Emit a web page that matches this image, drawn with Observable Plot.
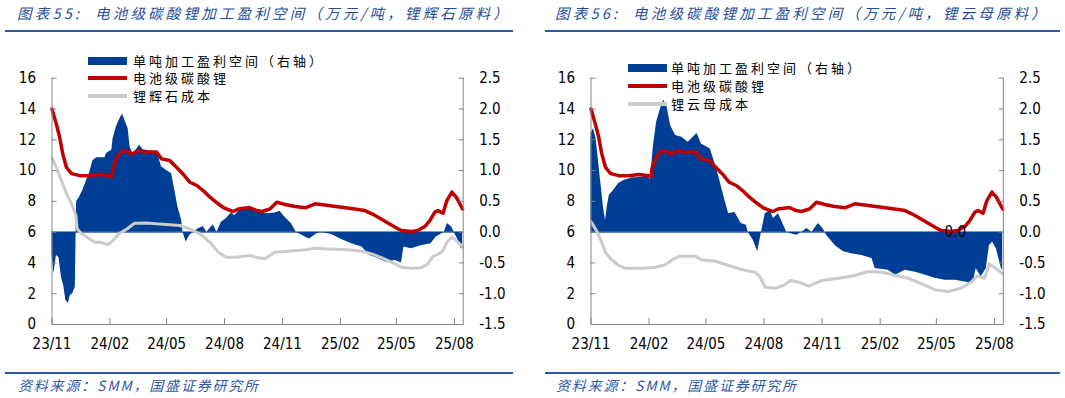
<!DOCTYPE html>
<html><head><meta charset="utf-8">
<script src="https://cdn.jsdelivr.net/npm/d3@7"></script>
<script src="https://cdn.jsdelivr.net/npm/@observablehq/plot@0.6"></script>
<style>
body{margin:0;width:1065px;height:398px;background:#fff;position:relative;overflow:hidden;font-family:"Noto Sans CJK SC",sans-serif}
.title{position:absolute;top:3px;line-height:20px;font-style:italic;color:#1f4e9b;font-size:14.5px;letter-spacing:3.2px;white-space:nowrap}
.rule{position:absolute;height:2px;background:#2a5aa8}
.src{position:absolute;top:375px;line-height:20px;font-style:italic;color:#2d5aa6;font-size:14px;letter-spacing:1.8px;white-space:nowrap}
.chart{position:absolute;top:40px}
.lg{position:absolute;font-size:13px;letter-spacing:3px;line-height:14px;height:14px;white-space:nowrap;color:#000}
.sw{position:absolute}
</style>
</head><body>
<script>
// ---------- data ----------
const titles = ["图表55:\u00a0\u00a0电池级碳酸锂加工盈利空间（万元/吨，锂辉石原料）",
                "图表56:\u00a0\u00a0电池级碳酸锂加工盈利空间（万元/吨，锂云母原料）"];
const sourceText = "资料来源：SMM，国盛证券研究所";
const legendLeft  = ["单吨加工盈利空间（右轴）","电池级碳酸锂","锂辉石成本"];
const legendRight = ["单吨加工盈利空间（右轴）","电池级碳酸锂","锂云母成本"];
const leftTicks = [0,2,4,6,8,10,12,14,16];
const rightTicks = [-1.5,-1.0,-0.5,0.0,0.5,1.0,1.5,2.0,2.5];
const xTicks = ["2023-11-01","2024-02-01","2024-05-01","2024-08-01","2024-11-01","2025-02-01","2025-05-01","2025-08-01"];
const xDomain = ["2023-11-01","2025-08-15"];

// 电池级碳酸锂 (万元/吨)
const carbonatePrice = [
["2023-11-01",14.0],["2023-11-08",13.0],["2023-11-13",12.2],["2023-11-18",11.1],["2023-11-24",10.2],
["2023-12-02",9.8],["2023-12-15",9.67],["2023-12-31",9.67],["2024-01-16",9.74],["2024-02-01",9.67],
["2024-02-04",9.6],["2024-02-06",10.2],["2024-02-12",10.86],["2024-02-20",11.25],["2024-03-01",11.25],
["2024-03-06",11.04],["2024-03-17",11.3],["2024-03-25",11.2],["2024-04-15",11.2],["2024-04-23",10.76],
["2024-05-06",10.65],["2024-05-17",10.2],["2024-05-27",9.78],["2024-06-07",9.24],["2024-06-18",9.03],
["2024-06-28",8.7],["2024-07-09",8.27],["2024-07-19",7.94],["2024-07-30",7.6],["2024-08-15",7.34],
["2024-08-23",7.5],["2024-09-10",7.6],["2024-09-21",7.4],["2024-09-29",7.34],["2024-10-12",7.5],
["2024-10-23",7.94],["2024-11-05",7.8],["2024-11-21",7.66],["2024-12-07",7.58],["2024-12-23",7.84],
["2025-01-13",7.73],["2025-02-03",7.62],["2025-02-24",7.5],["2025-03-12",7.4],["2025-03-23",7.19],
["2025-04-02",6.97],["2025-04-18",6.58],["2025-04-29",6.32],["2025-05-09",6.1],["2025-05-25",6.04],
["2025-06-04",6.1],["2025-06-15",6.36],["2025-06-23",6.75],["2025-07-01",7.3],["2025-07-06",7.4],
["2025-07-14",7.23],["2025-07-20",8.05],["2025-07-28",8.6],["2025-08-04",8.27],["2025-08-14",7.5]];

// 锂辉石成本 (万元/吨)
const spodumeneCost = [
["2023-11-01",10.82],["2023-11-08",10.2],["2023-11-16",9.35],["2023-11-24",8.5],["2023-12-02",7.84],
["2023-12-09",7.08],["2023-12-11",6.2],["2023-12-18",5.9],["2023-12-31",5.56],["2024-01-08",5.34],
["2024-01-16",5.34],["2024-01-29",5.2],["2024-02-06",5.45],["2024-02-15",5.89],["2024-02-28",6.2],
["2024-03-11",6.58],["2024-03-30",6.6],["2024-04-15",6.54],["2024-05-01",6.5],["2024-05-22",6.43],
["2024-06-07",6.2],["2024-06-23",5.89],["2024-07-09",5.34],["2024-07-22",4.69],["2024-08-04",4.37],
["2024-08-20",4.37],["2024-09-10",4.48],["2024-09-23",4.33],["2024-10-04",4.27],["2024-10-20",4.69],
["2024-11-10",4.76],["2024-12-07",4.85],["2024-12-23",4.95],["2025-01-13",4.91],["2025-02-14",4.85],
["2025-03-07",4.76],["2025-03-23",4.59],["2025-04-08",4.33],["2025-04-23",4.05],["2025-05-09",3.72],
["2025-05-25",3.66],["2025-06-09",3.68],["2025-06-20",3.94],["2025-06-28",4.42],["2025-07-06",4.55],
["2025-07-14",4.8],["2025-07-20",5.34],["2025-07-28",5.67],["2025-08-04",5.45],["2025-08-14",5.06]];

// 单吨加工盈利空间，锂辉石 (万元/吨，右轴)
const spodumeneProfit = [
["2023-11-01",-0.35],["2023-11-04",-0.68],["2023-11-08",-0.38],["2023-11-12",-0.41],["2023-11-16",-0.73],
["2023-11-20",-0.89],["2023-11-23",-1.11],["2023-11-27",-1.16],["2023-11-30",-1.03],["2023-12-04",-1.0],
["2023-12-08",-0.89],["2023-12-10",0.48],["2023-12-11",0.51],["2023-12-15",0.57],["2023-12-20",0.68],
["2023-12-26",0.84],["2023-12-31",0.97],["2024-01-05",1.16],["2024-01-11",1.21],["2024-01-24",1.21],
["2024-01-27",1.28],["2024-02-04",1.33],["2024-02-06",1.52],["2024-02-12",1.73],["2024-02-17",1.84],
["2024-02-21",1.92],["2024-02-25",1.81],["2024-03-01",1.68],["2024-03-04",1.38],["2024-03-09",1.27],
["2024-03-19",1.41],["2024-03-25",1.34],["2024-04-09",1.31],["2024-04-17",1.27],["2024-04-23",1.06],
["2024-05-01",1.0],["2024-05-09",0.95],["2024-05-14",0.68],["2024-05-19",0.41],["2024-05-25",0.19],
["2024-05-27",0.0],["2024-06-01",-0.16],["2024-06-07",-0.05],["2024-06-12",0.0],["2024-06-20",0.05],
["2024-06-28",0.09],["2024-07-04",0.0],["2024-07-14",0.12],["2024-07-20",0.0],["2024-07-27",0.16],
["2024-08-04",0.22],["2024-08-12",0.31],["2024-08-17",0.27],["2024-08-25",0.35],["2024-09-10",0.40],
["2024-09-18",0.38],["2024-09-29",0.32],["2024-10-09",0.30],["2024-10-20",0.31],["2024-10-28",0.34],
["2024-11-05",0.24],["2024-11-15",0.14],["2024-11-23",0.0],["2024-12-07",-0.08],["2024-12-14",-0.11],
["2024-12-25",-0.03],["2025-01-02",0.0],["2025-01-18",-0.04],["2025-02-03",-0.12],["2025-02-19",-0.19],
["2025-03-07",-0.24],["2025-03-20",-0.38],["2025-04-02",-0.43],["2025-04-15",-0.49],["2025-04-29",-0.46],
["2025-05-09",-0.5],["2025-05-13",-0.24],["2025-05-25",-0.27],["2025-06-09",-0.22],["2025-06-25",-0.19],
["2025-07-03",-0.08],["2025-07-08",-0.05],["2025-07-16",0.0],["2025-07-21",0.14],["2025-07-28",0.08],
["2025-08-02",-0.03],["2025-08-07",-0.13],["2025-08-12",-0.27],["2025-08-14",-0.27]];

// 锂云母成本 (万元/吨)
const lepidoliteCost = [
["2023-11-01",6.69],["2023-11-11",6.0],["2023-11-18",5.34],["2023-11-24",4.69],["2023-12-02",4.27],
["2023-12-15",3.83],["2023-12-25",3.66],["2024-01-21",3.66],["2024-02-11",3.72],["2024-02-27",3.88],
["2024-03-11",4.27],["2024-03-21",4.44],["2024-04-14",4.44],["2024-04-24",4.2],["2024-05-16",4.11],
["2024-06-06",3.83],["2024-06-26",3.57],["2024-07-18",3.4],["2024-07-26",3.07],["2024-08-03",2.42],
["2024-08-19",2.36],["2024-09-01",2.53],["2024-09-12",2.86],["2024-09-25",2.75],["2024-10-11",2.49],
["2024-11-01",2.86],["2024-11-27",3.0],["2024-12-23",3.18],["2025-01-13",3.44],["2025-02-04",3.4],
["2025-02-25",3.18],["2025-03-18",3.0],["2025-04-08",2.64],["2025-04-29",2.25],["2025-05-20",2.14],
["2025-06-09",2.36],["2025-06-25",2.75],["2025-07-05",3.18],["2025-07-16",3.0],["2025-07-24",3.94],
["2025-08-04",3.62],["2025-08-14",3.29]];

// 单吨加工盈利空间，锂云母 (万元/吨，右轴)
const lepidoliteProfit = [
["2023-11-01",1.6],["2023-11-05",1.68],["2023-11-09",1.52],["2023-11-13",1.14],["2023-11-17",0.76],
["2023-11-21",0.38],["2023-11-24",0.19],["2023-11-27",0.43],["2023-11-30",0.6],["2023-12-07",0.68],
["2023-12-15",0.79],["2023-12-23",0.84],["2024-01-05",0.88],["2024-01-21",0.89],["2024-02-01",0.92],
["2024-02-03",0.84],["2024-02-08",1.41],["2024-02-13",1.79],["2024-02-19",2.0],["2024-02-24",2.14],
["2024-02-29",2.06],["2024-03-06",1.73],["2024-03-14",1.57],["2024-03-24",1.54],["2024-04-03",1.46],
["2024-04-17",1.6],["2024-04-24",1.43],["2024-05-08",1.35],["2024-05-13",1.19],["2024-05-21",0.92],
["2024-05-29",0.6],["2024-06-06",0.3],["2024-06-16",0.32],["2024-06-26",0.14],["2024-07-04",0.11],
["2024-07-07",0.0],["2024-07-15",-0.13],["2024-07-22",-0.32],["2024-07-26",-0.11],["2024-07-28",0.0],
["2024-08-03",0.3],["2024-08-11",0.35],["2024-08-16",0.22],["2024-08-24",0.3],["2024-09-01",0.11],
["2024-09-06",0.0],["2024-09-14",-0.03],["2024-09-22",-0.05],["2024-09-30",0.0],["2024-10-08",0.06],
["2024-10-16",0.0],["2024-10-26",0.14],["2024-11-03",0.05],["2024-11-08",-0.05],["2024-11-22",-0.22],
["2024-12-05",-0.32],["2024-12-18",-0.35],["2025-01-03",-0.38],["2025-01-19",-0.43],["2025-01-24",-0.59],
["2025-02-14",-0.62],["2025-02-25",-0.7],["2025-03-13",-0.62],["2025-03-29",-0.65],["2025-04-14",-0.7],
["2025-04-29",-0.75],["2025-05-15",-0.78],["2025-05-31",-0.78],["2025-06-15",-0.81],["2025-06-28",-0.84],
["2025-07-03",-0.59],["2025-07-11",-0.73],["2025-07-19",-0.59],["2025-07-24",-0.22],["2025-07-29",-0.16],
["2025-08-04",-0.27],["2025-08-12",-0.59],["2025-08-14",-0.62]];

const strayLabel = [["2025-05-31",0.0,"0.0"]];

// ---------- drawing ----------
const BLUE="#003e96", RED="#c00000", GREY="#cbcbcb", AXIS="#858585";
const FONT='"DejaVu Sans Condensed","DejaVu Sans",sans-serif';
const toLeft = r => 6 + 4*r;   // right-axis value -> left-axis units
const parse = s => new Date(s + "T00:00:00Z");
const rows = a => a.map(([d,v]) => ({date: parse(d), v}));

function panel({left, width, mL, mR, price, cost, profit, labels}) {
  const dom = xDomain.map(parse);
  const marks = [
    Plot.areaY(rows(profit), {x:"date", y1: 6, y2: d => toLeft(d.v), fill: BLUE, curve: "linear"}),
    Plot.ruleY([6], {stroke: BLUE, strokeWidth: 1}),
    Plot.line(rows(cost), {x:"date", y:"v", stroke: GREY, strokeWidth: 3}),
    Plot.line(rows(price), {x:"date", y:"v", stroke: RED, strokeWidth: 3.5}),
    Plot.ruleX([dom[0]], {stroke: AXIS}),
    Plot.ruleX([dom[1]], {stroke: AXIS}),
    Plot.ruleY([0], {stroke: AXIS}),
    Plot.axisY({anchor:"left", ticks: leftTicks, tickSize:-5, tickPadding:21, tickFormat: d => String(d), stroke: AXIS, label: null}),
    Plot.axisY({anchor:"right", ticks: rightTicks.map(toLeft), tickSize:-5, tickPadding:21,
                tickFormat: d => ((d-6)/4).toFixed(1), stroke: AXIS, label: null}),
    Plot.axisX({ticks: xTicks.map(parse), tickSize:-6, tickPadding:20, tickFormat: d3.utcFormat("%y/%m"), stroke: AXIS, label: null})
  ];
  if (labels) marks.push(Plot.text(labels, {x: d => parse(d[0]), y: d => toLeft(d[1]), text: d => d[2], fill: "#000", fontSize: 15}));
  const svg = Plot.plot({
    width, height: 330, marginLeft: mL, marginRight: mR, marginTop: 37.7, marginBottom: 46,
    x: {type: "utc", domain: dom},
    y: {domain: [0, 16]},
    style: {fontFamily: FONT, fontSize: "15px", color: "#000", background: "transparent", overflow: "visible"},
    marks
  });
  svg.classList.add("chart");
  svg.style.left = left + "px";
  svg.style.top = "40px";
  svg.style.position = "absolute";
  document.body.appendChild(svg);
}

function addDiv(cls, css, text) {
  const d = document.createElement("div");
  d.className = cls;
  Object.assign(d.style, css);
  if (text != null) d.textContent = text;
  document.body.appendChild(d);
  return d;
}

function legend(x, textX, y0, dy, names) {
  const styles = [
    {background: BLUE, height: 8},
    {background: RED, height: 4},
    {background: GREY, height: 4}
  ];
  names.forEach((n, i) => {
    const cy = y0 + i*dy;
    const h = styles[i].height;
    addDiv("sw", {left: x+"px", top: (cy - h/2)+"px", width: "39px", height: h+"px", background: styles[i].background});
    addDiv("lg", {left: textX+"px", top: (cy - 7)+"px"}, n);
  });
}

// panels
panel({left: 0, width: 530, mL: 51.5, mR: 67.3, price: carbonatePrice, cost: spodumeneCost, profit: spodumeneProfit});
panel({left: 538.5, width: 530, mL: 51.5, mR: 66.2, price: carbonatePrice, cost: lepidoliteCost, profit: lepidoliteProfit, labels: strayLabel});

// titles, rules, sources
addDiv("title", {left: "17px"}, titles[0]);
addDiv("title", {left: "555px"}, titles[1]);
addDiv("rule", {left: "5px", width: "508px", top: "30px"});
addDiv("rule", {left: "545px", width: "515px", top: "30px"});
addDiv("rule", {left: "5px", width: "508px", top: "372px"});
addDiv("rule", {left: "545px", width: "515px", top: "372px"});
addDiv("src", {left: "18px"}, sourceText);
addDiv("src", {left: "556px"}, sourceText);

legend(88, 133, 60.5, 17.5, legendLeft);
legend(627.7, 671, 67.5, 18, legendRight);
</script>
</body></html>
